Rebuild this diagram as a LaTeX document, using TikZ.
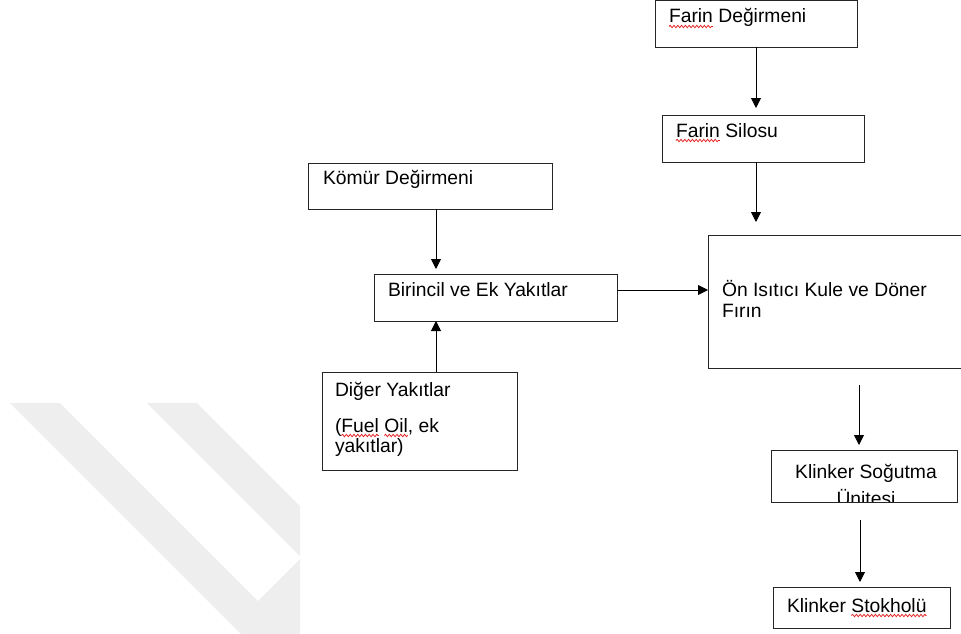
\documentclass[tikz,border=0pt]{standalone}
\usepackage{fontspec}
\setmainfont{Liberation Sans}
\usetikzlibrary{arrows.meta,fit,decorations.pathmorphing}

\definecolor{wmgray}{RGB}{238,238,238}
\definecolor{wavered}{RGB}{228,30,30}

\tikzset{
  box/.style={draw=black!85, line width=0.9pt, inner sep=0pt, outer sep=0pt},
  txt/.style={anchor=base west, inner sep=0pt, outer sep=0pt,
              font=\fontsize{19.3}{23}\selectfont},
  ctxt/.style={txt, anchor=base},
  arr/.style={draw=black, line width=0.9pt,
              -{Triangle[length=10pt,width=10pt]}},
  squig/.style={draw=wavered, line width=0.75pt, decorate,
                decoration={snake, segment length=3.8pt, amplitude=1.2pt}},
  wm/.style={fill=wmgray, draw=none}
}

\begin{document}
\begin{tikzpicture}[x=1pt, y=-1pt]
\useasboundingbox (0,0) rectangle (961,634);

% light watermark strokes in the lower left
\fill[wm] (10,403) -- (60,403) -- (258,601) -- (300,559) -- (300,634) -- (241,634) -- cycle;
\fill[wm] (147,403) -- (197,403) -- (300,506) -- (300,556) -- cycle;

% boxes
\node[box, fit={(655,0.5) (857,47)}]   (fd) {};
\node[box, fit={(662,115) (864,162)}]  (fs) {};
\node[box, fit={(308,163) (552,209)}]  (km) {};
\node[box, fit={(374,274) (617,321)}]  (bi) {};
\node[box, fit={(708,235) (975,368)}]  (on) {};
\node[box, fit={(322,372) (517,470)}]  (dy) {};
\node[box, fit={(771,450) (957,502)}]  (ks) {};
\node[box, fit={(773,587) (950,628)}]  (kt) {};

% labels
\node[txt] (fdA) at (669,23) {Farin};
\node[txt] (fdB) at (fdA.base east) {\ Değirmeni};
\draw[squig] ([yshift=-3.5pt]fdA.base west) -- ([yshift=-3.5pt]fdA.base east);

\node[txt] (fsA) at (676,137) {Farin};
\node[txt] (fsB) at (fsA.base east) {\ Silosu};
\draw[squig] ([yshift=-3.5pt]fsA.base west) -- ([yshift=-3.5pt]fsA.base east);

\node[txt] (kmT) at (323,184) {Kömür Değirmeni};
\node[txt] (biT) at (388,296) {Birincil ve Ek Yakıtlar};

\node[txt] (onT1) at (722,296) {Ön Isıtıcı Kule ve Döner};
\node[txt] (onT2) at (722,317) {Fırın};

\node[txt] (dyT1) at (335,396) {Diğer Yakıtlar};
\node[txt] (dyA) at (335,432) {(};
\node[txt] (dyB) at (dyA.base east) {Fuel};
\node[txt] (dyC) at ([xshift=5.4pt]dyB.base east) {Oil};
\node[txt] (dyD) at (dyC.base east) {, ek};
\node[txt] (dyT3) at (335,452) {yakıtlar)};
\draw[squig] ([yshift=-3.5pt]dyB.base west) -- ([yshift=-3.5pt]dyB.base east);
\draw[squig] ([yshift=-3.5pt]dyC.base west) -- ([yshift=-3.5pt]dyC.base east);

\node[ctxt] (ksT1) at (866,478) {Klinker Soğutma};
\begin{scope}
  \clip (ks.north west) rectangle ([yshift=0.5pt]ks.south east);
  \node[ctxt] (ksT2) at (866,505) {Ünitesi};
\end{scope}

\node[txt] (ktA) at (787,612) {Klinker};
\node[txt] (ktB) at ([xshift=5.4pt]ktA.base east) {Stokholü};
\draw[squig] ([yshift=-3.5pt]ktB.base west) -- ([yshift=-3.5pt]ktB.base east);

% connectors
\coordinate (colA) at (436,0);
\coordinate (rowA) at (0,290);
\coordinate (ksIn) at (859,385);
\coordinate (ktIn) at (860,520);

\draw[arr, shorten >=7pt] (fd.south) -- (fd.south |- fs.north);
\draw[arr, shorten >=13pt] (fs.south -| fd.south) -- (on.north -| fd.south);
\draw[arr, shorten >=5pt] (km.south -| colA) -- (bi.north -| colA);
\draw[arr] (dy.north -| colA) -- (bi.south -| colA);
\draw[arr] (bi.east |- rowA) -- (on.west |- rowA);
\draw[arr, shorten >=5pt] (ksIn) -- (ksIn |- ks.north);
\draw[arr, shorten >=5pt] (ktIn) -- (ktIn |- kt.north);
\end{tikzpicture}
\end{document}
